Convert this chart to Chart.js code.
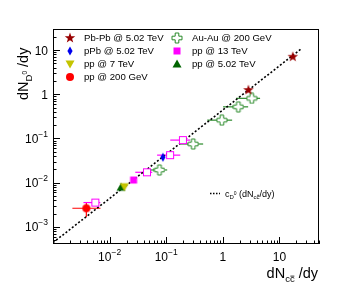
<!DOCTYPE html>
<html>
<head>
<meta charset="utf-8">
<script src="https://cdn.jsdelivr.net/npm/chart.js@4.4.1/dist/chart.umd.min.js"></script>
<style>
  html, body { margin: 0; padding: 0; background: #fff; }
</style>
</head>
<body>
<canvas id="chart" width="355" height="292"></canvas>
<script>
// ---- data ----
const pbpbX = [2.83, 17.2];
const pbpbY = [1.25, 7.06];
const pbpbXLo = [2.6, 15.6];
const pbpbXHi = [3.1, 19.0];

const ppbX = [0.0875];
const ppbY = [0.0376];
const ppbXLo = [0.081];
const ppbXHi = [0.094];

const pp7X = [0.0182];
const pp7Y = [0.0081];

const pp200X = [0.00388];
const pp200Y = [0.00264];
const pp200XLo = [0.0022];
const pp200XHi = [0.0069];
const pp200YLo = [0.00168];
const pp200YHi = [0.0035];

const auauX = [0.076, 0.30, 0.96, 1.88, 3.25];
const auauY = [0.0194, 0.075, 0.26, 0.52, 0.81];
const auauXLo = [0.052, 0.169, 0.53, 1.01, 1.72];
const auauXHi = [0.104, 0.449, 1.46, 2.8, 4.55];

const pp13X = [0.0265];
const pp13Y = [0.0115];

const pp13OpenX = [0.0056, 0.0457, 0.117, 0.197];
const pp13OpenY = [0.00355, 0.0172, 0.042, 0.092];
const pp13OpenXLo = [0.00345, 0.0284, 0.069, 0.118];
const pp13OpenXHi = [0.00686, 0.0566, 0.177, 0.265];

const pp5X = [0.0159];
const pp5Y = [0.0079];

const fracD0 = 0.44;          // slope of the dotted line
const lineX = [1e-3, 25];

const xTickVals = [0.01, 0.1, 1, 10];
const xTickLabels = [['10', '\u22122'], ['10', '\u22121'], ['1', ''], ['10', '']];
const yTickVals = [10, 1, 0.1, 0.01, 0.001];
const yTickLabels = [['10', ''], ['1', ''], ['10', '\u22121'], ['10', '\u22122'], ['10', '\u22123']];

const legendLabels = ['Pb-Pb @ 5.02 TeV', 'pPb @ 5.02 TeV', 'pp @ 7 TeV', 'pp @ 200 GeV',
                      'Au-Au @ 200 GeV', 'pp @ 13 TeV', 'pp @ 5.02 TeV'];

const FF = '"Liberation Sans", Arial, Helvetica, sans-serif';

// ---- markers ----
function mk(size, draw) {
    const c = document.createElement('canvas');
    c.width = size; c.height = size;
    const g = c.getContext('2d');
    draw(g, size / 2);
    return c;
}
const starMk = mk(12, (g, m) => {
    g.fillStyle = '#990000';
    g.beginPath();
    for (let i = 0; i < 10; i++) {
        const r = i % 2 ? 2.2 : 5.5, a = -Math.PI / 2 + i * Math.PI / 5;
        g.lineTo(m + r * Math.cos(a), m + r * Math.sin(a));
    }
    g.closePath(); g.fill();
});
const diamondMk = mk(10, (g, m) => {
    g.fillStyle = '#0000ee';
    g.beginPath();
    g.moveTo(m, m - 4.5); g.lineTo(m + 2.6, m); g.lineTo(m, m + 4.5); g.lineTo(m - 2.6, m);
    g.closePath(); g.fill();
});
const triDownMk = mk(10, (g, m) => {
    g.fillStyle = '#c4c400';
    g.beginPath();
    g.moveTo(m - 4.5, m - 3.5); g.lineTo(m + 4.5, m - 3.5); g.lineTo(m, m + 4.5);
    g.closePath(); g.fill();
});
const circleMk = mk(10, (g, m) => {
    g.fillStyle = '#ff0000';
    g.beginPath(); g.arc(m, m, 4, 0, Math.PI * 2); g.fill();
});
const crossMk = mk(12, (g, m) => {
    const a = 5, b = 1.8;
    g.fillStyle = '#fff'; g.strokeStyle = '#2a8a2a'; g.lineWidth = 1;
    g.beginPath();
    g.moveTo(m - b, m - a); g.lineTo(m + b, m - a); g.lineTo(m + b, m - b); g.lineTo(m + a, m - b);
    g.lineTo(m + a, m + b); g.lineTo(m + b, m + b); g.lineTo(m + b, m + a); g.lineTo(m - b, m + a);
    g.lineTo(m - b, m + b); g.lineTo(m - a, m + b); g.lineTo(m - a, m - b); g.lineTo(m - b, m - b);
    g.closePath(); g.fill(); g.stroke();
});
const squareMk = mk(10, (g, m) => {
    g.fillStyle = '#ff00ff';
    g.fillRect(m - 3.5, m - 3.5, 7, 7);
});
const openSquareMk = mk(10, (g, m) => {
    g.fillStyle = '#fff'; g.strokeStyle = '#ff00ff'; g.lineWidth = 1;
    g.fillRect(m - 3.5, m - 3.5, 7, 7);
    g.strokeRect(m - 3.5, m - 3.5, 7, 7);
});
const triUpMk = mk(10, (g, m) => {
    g.fillStyle = '#006400';
    g.beginPath();
    g.moveTo(m - 4.5, m + 3.5); g.lineTo(m + 4.5, m + 3.5); g.lineTo(m, m - 4.5);
    g.closePath(); g.fill();
});

function pts(xs, ys) { return xs.map((x, i) => ({ x: x, y: ys[i] })); }

function series(label, xs, ys, marker, err, color) {
    return {
        label: label,
        data: pts(xs, ys),
        pointStyle: marker,
        pointRadius: 5,
        err: err,
        errColor: color,
        order: 1
    };
}

const datasets = [
    {
        label: 'line',
        data: lineX.map(x => ({ x: x, y: fracD0 * x })),
        showLine: true,
        borderColor: '#000',
        borderWidth: 1.6,
        borderDash: [2, 2],
        pointRadius: 0,
        order: 5
    },
    series(legendLabels[0], pbpbX, pbpbY, starMk, { xLo: pbpbXLo, xHi: pbpbXHi }, '#990000'),
    series(legendLabels[1], ppbX, ppbY, diamondMk, { xLo: ppbXLo, xHi: ppbXHi }, '#0000ee'),
    series(legendLabels[2], pp7X, pp7Y, triDownMk, null, '#c4c400'),
    series(legendLabels[3], pp200X, pp200Y, circleMk,
        { xLo: pp200XLo, xHi: pp200XHi, yLo: pp200YLo, yHi: pp200YHi }, '#ff0000'),
    series(legendLabels[4], auauX, auauY, crossMk, { xLo: auauXLo, xHi: auauXHi }, '#2a8a2a'),
    series(legendLabels[5], pp13X, pp13Y, squareMk, null, '#ff00ff'),
    series('pp13open', pp13OpenX, pp13OpenY, openSquareMk, { xLo: pp13OpenXLo, xHi: pp13OpenXHi }, '#ff00ff'),
    series(legendLabels[6], pp5X, pp5Y, triUpMk, null, '#006400')
];

// ---- helpers ----
function rich(g, parts, x, y, align) {
    let w = 0;
    parts.forEach(p => { g.font = p[1] + 'px ' + FF; w += g.measureText(p[0]).width; });
    let cx = align === 'right' ? x - w : x;
    parts.forEach(p => {
        g.font = p[1] + 'px ' + FF;
        g.fillText(p[0], cx, y + p[2]);
        const pw = g.measureText(p[0]).width;
        if (p[3]) {
            const cw = g.measureText('c').width;
            const by = y + p[2] - p[1] * 0.62;
            g.beginPath();
            g.lineWidth = 0.8;
            g.moveTo(cx + pw - cw + 0.5, by); g.lineTo(cx + pw - 0.3, by);
            g.stroke();
        }
        cx += pw;
    });
}

// error bars behind the markers
const errorBars = {
    id: 'errorBars',
    beforeDatasetsDraw(chart) {
        const { ctx, scales: { x, y } } = chart;
        ctx.save();
        ctx.lineWidth = 1.2;
        chart.data.datasets.forEach(ds => {
            if (!ds.err) return;
            ctx.strokeStyle = ds.errColor;
            ds.data.forEach((p, i) => {
                const px = x.getPixelForValue(p.x), py = y.getPixelForValue(p.y);
                ctx.beginPath();
                if (ds.err.xLo) {
                    ctx.moveTo(x.getPixelForValue(ds.err.xLo[i]), py);
                    ctx.lineTo(x.getPixelForValue(ds.err.xHi[i]), py);
                }
                if (ds.err.yLo) {
                    ctx.moveTo(px, y.getPixelForValue(ds.err.yLo[i]));
                    ctx.lineTo(px, y.getPixelForValue(ds.err.yHi[i]));
                }
                ctx.stroke();
            });
        });
        ctx.restore();
    }
};

function minorVals(min, max) {
    const out = [];
    for (let d = -5; d <= 2; d++) {
        for (let m = 1; m <= 9; m++) {
            const v = m * Math.pow(10, d);
            if (v >= min * 0.999 && v <= max * 1.001) out.push({ v: v, major: m === 1 });
        }
    }
    return out;
}

// frame, inward ticks, tick labels, titles, legend
const decor = {
    id: 'decor',
    afterDraw(chart) {
        const { ctx, chartArea: a, scales: { x, y } } = chart;
        ctx.save();
        ctx.strokeStyle = '#000';
        ctx.lineWidth = 1;
        ctx.strokeRect(a.left + 0.5, a.top + 0.5, a.right - a.left - 1, a.bottom - a.top - 1);

        ctx.beginPath();
        minorVals(x.min, x.max).forEach(t => {
            const px = Math.round(x.getPixelForValue(t.v)) + 0.5;
            ctx.moveTo(px, a.bottom);
            ctx.lineTo(px, a.bottom - (t.major ? 7 : 3.5));
        });
        minorVals(y.min, y.max).forEach(t => {
            const py = Math.round(y.getPixelForValue(t.v)) + 0.5;
            ctx.moveTo(a.left, py);
            ctx.lineTo(a.left + (t.major ? 7 : 3.5), py);
        });
        ctx.stroke();

        ctx.fillStyle = '#000';
        ctx.textBaseline = 'alphabetic';
        // x tick labels
        xTickVals.forEach((v, i) => {
            const lab = xTickLabels[i];
            ctx.font = '12px ' + FF;
            const w1 = ctx.measureText(lab[0]).width;
            ctx.font = '8.5px ' + FF;
            const w2 = ctx.measureText(lab[1]).width;
            const px = x.getPixelForValue(v) - (w1 + w2) / 2;
            rich(ctx, [[lab[0], 12, 0], [lab[1], 8.5, -6]], px, 261, 'left');
        });
        // y tick labels
        yTickVals.forEach((v, i) => {
            const lab = yTickLabels[i];
            const py = y.getPixelForValue(v) + 4.5;
            rich(ctx, [[lab[0], 12, 0], [lab[1], 8.5, -6]], 48, py, 'right');
        });

        // axis titles
        ctx.strokeStyle = '#000';
        rich(ctx, [['dN', 14.5, 0], ['cc', 9.5, 4, true], [' /dy', 14.5, 0]], 318, 278, 'right');
        ctx.save();
        ctx.translate(28, 100);
        ctx.rotate(-Math.PI / 2);
        rich(ctx, [['dN', 14.5, 0], ['D', 9.5, 4], ['0', 6.5, -1], [' /dy', 14.5, 0]], 0, 0, 'left');
        ctx.restore();

        // legend
        const rows = [38, 51, 64, 77];
        const marks = [starMk, diamondMk, triDownMk, circleMk, crossMk, squareMk, triUpMk];
        ctx.font = '9.6px ' + FF;
        ctx.textBaseline = 'middle';
        legendLabels.forEach((lab, i) => {
            const col = i < 4 ? 0 : 1;
            const row = i < 4 ? i : i - 4;
            const mx = col ? 177 : 70;
            const tx = col ? 192 : 84;
            const m = marks[i];
            ctx.drawImage(m, mx - m.width / 2, rows[row] - m.height / 2);
            ctx.fillText(lab, tx, rows[row] + 0.5);
        });

        // line legend
        ctx.textBaseline = 'alphabetic';
        ctx.beginPath();
        ctx.setLineDash([1.5, 1.5]);
        ctx.lineWidth = 1.5;
        ctx.moveTo(210, 193.5); ctx.lineTo(220, 193.5);
        ctx.stroke();
        ctx.setLineDash([]);
        rich(ctx, [['c', 9, 0], ['D', 6, 2], ['0', 5, -1.5], [' (dN', 9, 0], ['cc', 6, 2.5, true], ['/dy)', 9, 0]],
            225, 196.5, 'left');
        ctx.restore();
    }
};

new Chart(document.getElementById('chart'), {
    type: 'scatter',
    data: { datasets: datasets },
    options: {
        responsive: false,
        animation: false,
        layout: { padding: { left: 0, right: 36, top: 29, bottom: 0 } },
        plugins: { legend: { display: false }, tooltip: { enabled: false } },
        scales: {
            x: {
                type: 'logarithmic', min: 1e-3, max: 50,
                grid: { display: false, drawTicks: false },
                border: { display: false },
                ticks: { display: false },
                afterFit: s => { s.height = 48; }
            },
            y: {
                type: 'logarithmic', min: 4.1e-4, max: 30,
                grid: { display: false, drawTicks: false },
                border: { display: false },
                ticks: { display: false },
                afterFit: s => { s.width = 53; }
            }
        }
    },
    plugins: [errorBars, decor]
});
</script>
</body>
</html>
